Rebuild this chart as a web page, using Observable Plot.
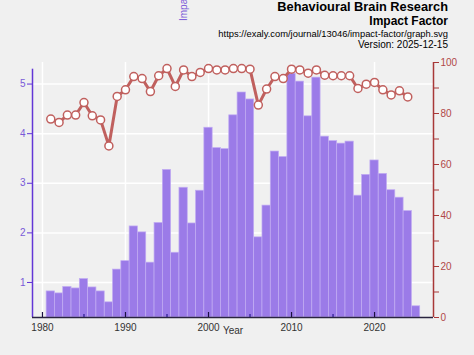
<!DOCTYPE html>
<html>
<head>
<meta charset="utf-8">
<script src="https://cdn.jsdelivr.net/npm/d3@7"></script>
<script src="https://cdn.jsdelivr.net/npm/@observablehq/plot@0.6"></script>
<style>
  html, body { margin: 0; padding: 0; background: #f0f0f0; }
  #wrap { position: relative; width: 474px; height: 355px; font-family: "Liberation Sans", Arial, sans-serif; overflow: hidden; }
  #wrap svg.plot { position: absolute; left: 0; top: 0; }
  .t { position: absolute; right: 26px; text-align: right; white-space: nowrap; color: #000; line-height: 1; }
</style>
</head>
<body>
<div id="wrap">
  <div class="t" style="top:1px;font-size:12.8px;font-weight:bold;">Behavioural Brain Research</div>
  <div class="t" style="top:14.5px;font-size:12px;font-weight:bold;">Impact Factor</div>
  <div class="t" style="top:28.5px;font-size:9.4px;">https://exaly.com/journal/13046/impact-factor/graph.svg</div>
  <div class="t" style="top:40px;font-size:10px;">Version: 2025-12-15</div>
  <svg width="474" height="40" style="position:absolute;left:0;top:0;">
    <text transform="translate(187,21) rotate(-90)" fill="#7a5ad8" font-size="10" font-family="Liberation Sans, Arial, sans-serif">Impact Factor</text>
  </svg>
</div>
<script>
const years = [1981,1982,1983,1984,1985,1986,1987,1988,1989,1990,1991,1992,1993,1994,1995,1996,1997,1998,1999,2000,2001,2002,2003,2004,2005,2006,2007,2008,2009,2010,2011,2012,2013,2014,2015,2016,2017,2018,2019,2020,2021,2022,2023,2024,2025];
const impactFactor = [0.82,0.78,0.91,0.88,1.07,0.90,0.82,0.60,1.26,1.43,2.13,2.01,1.40,2.20,3.27,1.60,2.91,2.19,2.85,4.12,3.71,3.69,4.37,4.83,4.69,1.91,2.55,3.64,3.53,5.21,5.05,4.35,5.13,3.94,3.85,3.80,3.84,2.75,3.17,3.46,3.19,2.86,2.71,2.44,0.52];
const percentileYears = years.slice(0, 44);
const percentile = [77.8,76.5,79.4,79.4,84.3,79.1,77.5,67.3,86.7,89.3,94.5,93.7,88.6,94.8,97.6,90.6,97.1,94.5,96.1,97.6,97.1,97.1,97.6,97.6,97.4,83.3,89.6,94.5,93.7,97.4,97.1,95.8,97.1,95.0,94.8,94.8,94.8,89.8,91.5,92.2,89.3,87.3,88.9,86.5];
const xMajorTicks = [1980,1990,2000,2010,2020];
const xMinorTicks = [1985,1995,2005,2015];
const leftTicks = [1,2,3,4,5];
const rightTicks = [0,20,40,60,80,100];
const rightMinorTicks = [10,30,50,70,90];

const bars = years.map((y,i) => ({year: y, value: impactFactor[i]}));
const pts = percentileYears.map((y,i) => ({year: y, value: percentile[i]}));

const W = 474, H = 355;
const margins = {marginLeft: 32, marginRight: 41, marginTop: 62, marginBottom: 38};
const xDomain = [1978.8, 2027.1];
const leftDomain = [0.294, 5.435];
const purple = "#6236d6";
const purpleText = "#7a5ad8";
const red = "#a83838";
const font = "Liberation Sans, Arial, sans-serif";

const p1 = Plot.plot({
  width: W, height: H, ...margins,
  style: {background: "transparent", fontFamily: font, fontSize: "10px"},
  x: {domain: xDomain},
  y: {domain: leftDomain},
  marks: [
    Plot.gridY(leftTicks, {stroke: "white", strokeOpacity: 1, strokeWidth: 1.5}),
    Plot.gridX(xMajorTicks, {stroke: "white", strokeOpacity: 1, strokeWidth: 1.5}),
    Plot.rectY(bars, {x1: d => d.year - 0.5, x2: d => d.year + 0.5, y1: leftDomain[0], y2: "value",
      fill: "#9b7be8", stroke: "#c2adf3", strokeWidth: 0.7}),
    Plot.axisY({anchor: "left", ticks: leftTicks, tickSize: 5, tickPadding: 2, tickFormat: d => String(d), stroke: purple, color: purpleText, label: null, fontSize: 10}),
    Plot.ruleX([xDomain[0]], {y1: leftDomain[0], y2: 5.3, stroke: purple, strokeWidth: 1.5}),
    Plot.ruleY([leftDomain[0]], {x1: xDomain[0], x2: xDomain[1], stroke: "#2a2440", strokeWidth: 1.5}),
    Plot.ruleX(xMajorTicks, {y1: leftDomain[0], y2: leftDomain[0], insetTop: -5, stroke: "#1a1040", strokeWidth: 1.2}),
    Plot.ruleX(xMinorTicks, {y1: leftDomain[0], y2: leftDomain[0], insetTop: -3, stroke: "#2a1a90", strokeWidth: 1.2}),
    Plot.axisX({ticks: xMajorTicks, tickSize: 0, tickPadding: 6, tickFormat: d => String(d), color: "#333", label: null, fontSize: 10}),
    Plot.text(["Year"], {frameAnchor: "bottom", dy: 16, text: d => d, fill: "#333", fontSize: 10})
  ]
});
p1.classList.add("plot");

const p2 = Plot.plot({
  width: W, height: H, ...margins,
  style: {background: "transparent", fontFamily: font, fontSize: "10px"},
  x: {domain: xDomain, axis: null},
  y: {domain: [0, 100], axis: null},
  marks: [
    Plot.axisY({anchor: "right", ticks: rightTicks, tickSize: 5, tickPadding: 2, stroke: red, color: "#b04848", label: null, fontSize: 10}),
    Plot.axisY({anchor: "right", ticks: rightMinorTicks, tickSize: 5, tickFormat: () => "", stroke: red, label: null}),
    Plot.ruleX([xDomain[1]], {y1: 0, y2: 100, stroke: red, strokeWidth: 1.5}),
    Plot.line(pts, {x: "year", y: "value", stroke: "#c0605e", strokeWidth: 3}),
    Plot.dot(pts, {x: "year", y: "value", r: 4, fill: "white", stroke: "#c0605e", strokeWidth: 1.5})
  ]
});
p2.classList.add("plot");

const wrap = document.getElementById("wrap");
wrap.insertBefore(p1, wrap.firstChild);
wrap.insertBefore(p2, p1.nextSibling);
</script>
</body>
</html>
